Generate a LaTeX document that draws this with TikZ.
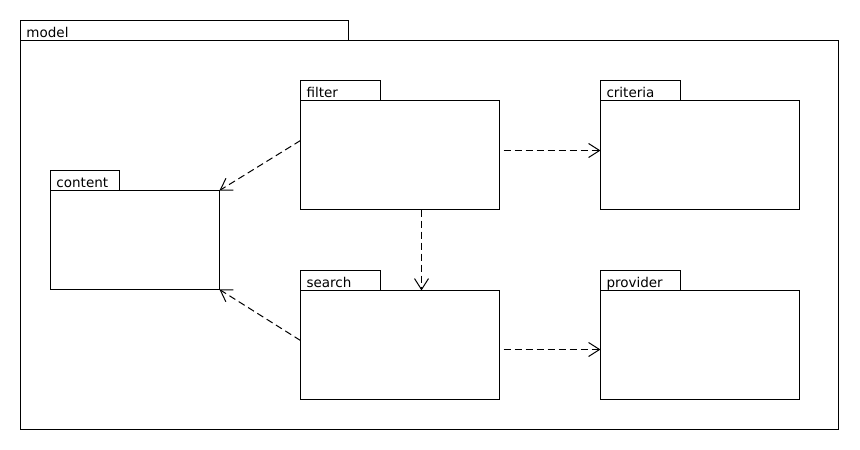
\documentclass[tikz,border=0pt]{standalone}
\usepackage{fontspec}
\setmainfont{DejaVu Sans}
\usetikzlibrary{arrows.meta}
\begin{document}
\begin{tikzpicture}[x=1pt,y=-1pt,
  font=\fontsize{13.5}{15}\selectfont,
  pkgbody/.style={draw, line width=1pt, anchor=north west, inner sep=0pt, outer sep=0pt},
  pkgtab/.style={draw, line width=1pt, anchor=south west, minimum height=20pt, outer sep=0pt,
    inner xsep=6pt, inner ysep=0pt, align=left, text height=17pt, text depth=3pt},
  dep/.style={line width=1pt, dash pattern=on 7pt off 4pt,
    -{Straight Barb[length=11pt,width=14pt,line width=1pt]}}]
\useasboundingbox (-0.5,-0.5) rectangle (859.5,449.5);
% outer package
\node[pkgbody, minimum width=818pt, minimum height=389pt] (model) at (20,40) {};
\node[pkgtab, text width=316pt] (modeltab) at (model.north west) {model};
% inner packages
\node[pkgbody, minimum width=199pt, minimum height=109pt] (filter) at (300,100) {};
\node[pkgtab, text width=68pt] (filtertab) at (filter.north west) {filter};
\node[pkgbody, minimum width=199pt, minimum height=109pt] (criteria) at (600,100) {};
\node[pkgtab, text width=68pt] (criteriatab) at (criteria.north west) {criteria};
\node[pkgbody, minimum width=169pt, minimum height=99pt] (content) at (50,190) {};
\node[pkgtab, text width=57pt] (contenttab) at (content.north west) {content};
\node[pkgbody, minimum width=199pt, minimum height=109pt] (search) at (300,290) {};
\node[pkgtab, text width=68pt] (searchtab) at (search.north west) {search};
\node[pkgbody, minimum width=199pt, minimum height=109pt] (provider) at (600,290) {};
\node[pkgtab, text width=68pt] (providertab) at (provider.north west) {provider};
% dependencies
\draw[dep] ([yshift=14.5pt]filter.west) -- (content.north east);
\draw[dep] ([yshift=4.5pt]search.west) -- (content.south east);
\draw[dep] ([xshift=21.5pt]filter.south) -- ([xshift=21.5pt]search.north);
\draw[dep] ([xshift=4pt,yshift=4.5pt]filter.east) -- ([yshift=4.5pt]criteria.west);
\draw[dep] ([xshift=4pt,yshift=-4.5pt]search.east) -- ([yshift=-4.5pt]provider.west);
\end{tikzpicture}
\end{document}
